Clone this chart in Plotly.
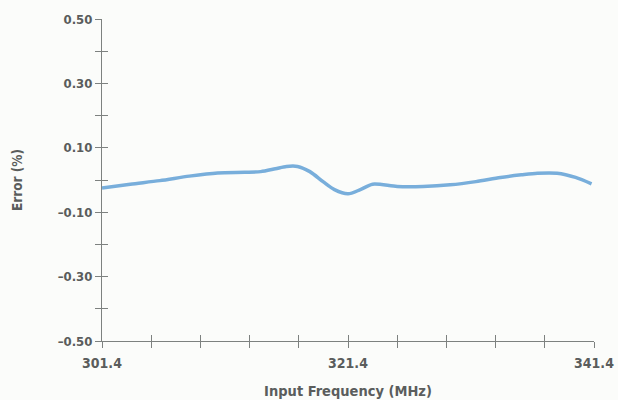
import plotly.graph_objects as go

freq_mhz = [301.4, 303.7, 306.1, 308.5, 310.8, 313.0, 314.3, 315.5, 316.4, 317.3, 318.3, 319.4, 320.3, 321.4, 322.4, 323.4, 325.4, 327.5, 329.7, 331.8, 333.8, 335.5, 336.8, 338.4, 339.9, 341.2]
error_pct = [-0.025, -0.013, -0.002, 0.012, 0.022, 0.024, 0.026, 0.035, 0.042, 0.042, 0.026, -0.006, -0.030, -0.043, -0.030, -0.013, -0.020, -0.020, -0.015, -0.005, 0.008, 0.016, 0.021, 0.021, 0.008, -0.012]

x_ticks = [301.4 + 4 * i for i in range(11)]
x_labels = ["301.4", "", "", "", "", "321.4", "", "", "", "", "341.4"]
y_ticks = [0.5, 0.4, 0.3, 0.2, 0.1, 0.0, -0.1, -0.2, -0.3, -0.4, -0.5]
y_labels = ["0.50", "", "0.30", "", "0.10", "", "\u20130.10", "", "\u20130.30", "", "\u20130.50"]

FONT = "DejaVu Sans Condensed, Liberation Sans Narrow, Roboto, sans-serif"
TXT = "#5a5d5c"
AX = "#7d817f"

fig = go.Figure()
fig.add_trace(go.Scatter(x=freq_mhz, y=error_pct, mode="lines",
                         line=dict(color="#78aedb", width=3.5, shape="spline", smoothing=0.8),
                         hoverinfo="skip", showlegend=False))
fig.add_trace(go.Scatter(x=[301.4], y=[0], xaxis="x2", yaxis="y2", mode="markers",
                         marker=dict(opacity=0), showlegend=False, hoverinfo="skip"))

fig.update_layout(
    width=618, height=400,
    margin=dict(l=102, r=24, t=19, b=59),
    paper_bgcolor="#fbfcfa", plot_bgcolor="#fbfcfa",
    font=dict(family=FONT, size=13, color=TXT, weight="bold"),
    xaxis=dict(range=[301.4, 341.4], tickvals=x_ticks, ticktext=x_labels, automargin=False,
               ticks="outside", ticklen=6, tickwidth=1, tickcolor=AX,
               showline=True, linecolor=AX, linewidth=1, showgrid=False, zeroline=False,
               tickfont=dict(family=FONT, size=14, color=TXT, weight="bold"), ticklabelstandoff=3,
               title=dict(text="Input Frequency (MHz)", font=dict(family=FONT, size=14.5, color=TXT, weight="bold"), standoff=16)),
    yaxis=dict(range=[-0.5, 0.5], tickvals=y_ticks, ticktext=y_labels, automargin=False,
               ticks="outside", ticklen=6, tickwidth=1, tickcolor=AX,
               showline=True, linecolor=AX, linewidth=1, showgrid=False, zeroline=False,
               tickfont=dict(family=FONT, size=13, color=TXT, weight="bold"),
               title=dict(text="Error (%)", font=dict(family=FONT, size=13.5, color=TXT, weight="bold"), standoff=31)),
    xaxis2=dict(range=[301.4, 341.4], overlaying="x", anchor="y", side="bottom", tickvals=x_ticks,
                showticklabels=False, ticks="inside", ticklen=6, tickcolor=AX, showgrid=False,
                zeroline=False, showline=False, automargin=False),
    yaxis2=dict(range=[-0.5, 0.5], overlaying="y", anchor="x", side="left", tickvals=y_ticks,
                showticklabels=False, ticks="inside", ticklen=6, tickcolor=AX, showgrid=False,
                zeroline=False, showline=False, automargin=False),
)
fig.write_html("out.html", config={"displayModeBar": False},
               post_script="document.body.style.margin='0';document.body.style.background='#fbfcfa';")
